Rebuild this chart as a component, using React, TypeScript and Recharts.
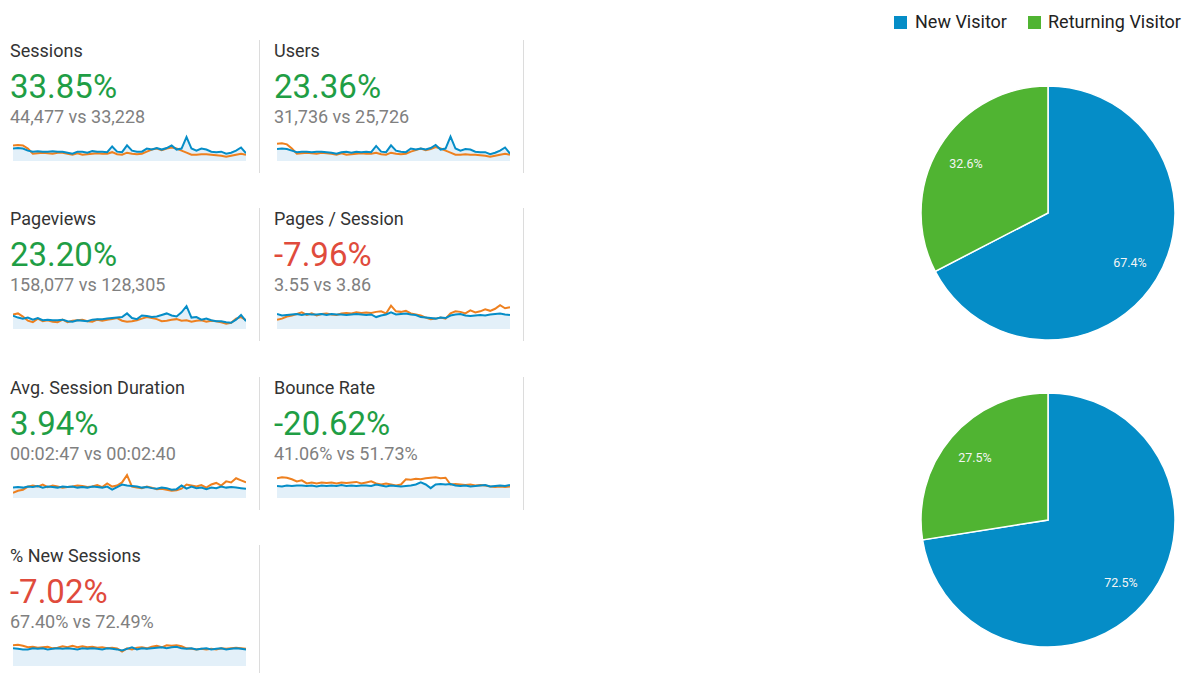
import { ComposedChart, Area, Line, XAxis, YAxis, PieChart, Pie, Cell } from 'recharts';

const BLUE = '#058dc7';
const ORANGE = '#ee801f';
const GREEN = '#50b432';
const AREA_FILL = '#e3f0f9';

const metricNames = ['Sessions', 'Users', 'Pageviews', 'Pages / Session', 'Avg. Session Duration', 'Bounce Rate', '% New Sessions'];
const metricChanges = ['33.85%', '23.36%', '23.20%', '-7.96%', '3.94%', '-20.62%', '-7.02%'];
const metricCompare = ['44,477 vs 33,228', '31,736 vs 25,726', '158,077 vs 128,305', '3.55 vs 3.86', '00:02:47 vs 00:02:40', '41.06% vs 51.73%', '67.40% vs 72.49%'];
const metricUp = [true, true, true, false, true, true, false];

// sparkline values, current range (blue) and previous range (orange)
const sessionsCur = [12, 12.5, 12, 10, 9, 9.5, 9, 9, 9.5, 9, 9, 8, 7, 9, 9, 8, 9.5, 9, 9, 8.5, 14, 9, 8.5, 15, 10, 9, 9, 12, 11, 12.5, 11, 12.5, 15, 11, 12, 23, 12, 10, 12, 11, 9, 8.5, 9, 7, 8, 10, 13, 7.5];
const sessionsPrev = [15, 15.5, 15, 12, 7, 7.5, 8, 7.5, 7, 8, 8, 7, 6, 7.5, 6, 6.5, 7, 7.5, 7, 7, 8.5, 6.5, 6, 8, 7, 6.5, 7, 9, 11, 12, 10.5, 12, 13, 12, 10, 8, 6, 6, 6.5, 6.5, 6, 5.5, 5, 4, 5, 6, 7, 6];
const usersCur = [11.5, 12, 11.5, 10, 8.5, 9, 9, 8.5, 9, 9, 8.5, 8, 7, 8.5, 9, 8, 9, 8.5, 9, 8.5, 14.5, 9, 8.5, 15, 10, 9, 8.5, 12, 11, 12, 11, 12.5, 15.5, 11, 12, 23.5, 12, 10, 11.5, 11, 9, 8.5, 8.5, 6.5, 8, 10, 13, 7];
const usersPrev = [16.5, 17, 16, 12, 7, 7.5, 8, 7.5, 7, 8, 7.5, 7, 6, 7.5, 6, 6.5, 7, 7.5, 7, 7, 8, 6.5, 6, 8, 7, 6.5, 7, 9, 10.5, 12, 10.5, 11.5, 13.5, 12, 10, 8, 6, 6, 6.5, 6, 6, 5.5, 5, 4, 5, 6, 7, 6];
const pageviewsCur = [12.7, 11, 10, 11, 9, 10.5, 8.5, 9, 8.5, 8.5, 9, 7.5, 7, 8.5, 8, 7.5, 9, 9.5, 9.5, 10, 10.5, 11, 11.5, 15, 10.5, 9.5, 13, 12.5, 11.5, 12, 13.5, 15, 13, 12, 16, 22, 11, 11.5, 9, 10, 8.5, 7.5, 7.5, 6.5, 6, 9, 13.5, 7.5];
const pageviewsPrev = [14, 15, 12, 8, 6.5, 10, 7.5, 8.5, 7, 6.5, 9, 6.5, 8, 8.5, 9, 7.5, 7, 9, 8, 9, 9.5, 10.5, 8, 7, 7.5, 8.5, 10, 11.5, 10.5, 9.5, 7.5, 8, 9, 9.5, 8, 8.5, 7, 8, 8.5, 7, 8, 7.5, 6.5, 5, 6, 10, 11.5, 8.5];
const pagesPerCur = [14.5, 13, 13.5, 14, 14.5, 13.5, 14.5, 14, 14, 14.5, 13.5, 14.5, 14, 14, 13.5, 14, 14.5, 14, 13.5, 14, 11.5, 13, 14, 16, 14, 14.5, 15, 14, 13.5, 11.5, 11, 10.5, 10, 11, 10.5, 13, 14, 14.5, 13, 12.5, 13, 13.5, 13, 14, 14.5, 15, 14, 13.5];
const pagesPerPrev = [9, 10, 12, 13, 14.5, 16, 13.5, 15, 13, 14.5, 15, 14, 13.5, 15, 15.5, 15, 16, 15.5, 16, 15.5, 16.5, 17, 15, 22.5, 17, 16.5, 17.5, 15, 14, 13, 11, 9.5, 10, 11, 10, 15, 17, 16.5, 15, 18, 16, 17, 19, 17.5, 19.5, 23, 20, 21];
const durationCur = [10, 10.5, 10, 11, 10.5, 11.5, 10, 11, 10.5, 10, 11, 10.5, 11, 10, 10.5, 10, 11, 10.5, 10, 11, 8, 10.5, 13, 12, 11.5, 11, 10, 10.5, 9.5, 9, 10, 9.5, 8, 8.5, 12, 9, 11, 9.5, 10, 8.5, 10, 9.5, 11, 10, 10.5, 10, 9.5, 9];
const durationPrev = [5, 7, 8, 11, 12, 11, 13, 10.5, 12, 11, 10, 10.5, 11, 12, 11.5, 10.5, 11, 12.5, 10.5, 14, 11, 12, 15, 22, 11, 10, 9.5, 11, 10, 8.5, 9, 8, 7, 7.5, 9, 13, 12, 11, 12.5, 10, 13, 14.5, 12, 16, 15, 19, 17, 15];
const bounceCur = [11.5, 11, 12, 11.5, 12, 12, 11.5, 12, 11, 12, 11.5, 12, 11.5, 12.5, 11.5, 12, 11.5, 12, 12, 11.5, 13, 12, 11, 12, 11.5, 11, 11.5, 12, 13, 15, 13, 9.5, 13, 13.5, 13, 13.5, 12, 11.5, 12, 11, 11.5, 12, 12.5, 11, 11.5, 12, 11.5, 12.5];
const bouncePrev = [19, 20, 19.5, 18, 16, 17, 14, 15, 14, 15, 14.5, 15, 14, 15, 14.5, 15, 15.5, 14, 15, 16, 14, 13, 14, 13, 12, 13, 18, 17.5, 18.5, 18, 19, 19.5, 20, 19, 19.5, 13, 13.5, 13, 12.5, 13, 12, 12.5, 12, 11, 10.5, 11, 10.5, 11];
const newSessCur = [17, 16.5, 16, 16, 17, 16.5, 17, 16, 16.5, 17, 16.5, 17, 16.5, 16, 17, 16.5, 17, 16.5, 16, 17, 16.5, 16, 15, 16.5, 18, 16, 17, 16.5, 17, 17.5, 18, 17, 18, 18.5, 17, 16.5, 17, 16, 16.5, 17, 16, 16.5, 17, 16, 16.5, 17, 16.5, 16];
const newSessPrev = [20, 20.5, 19.5, 18, 18.5, 17.5, 18, 18.5, 17, 17.5, 19, 18, 19.5, 18, 19, 18, 18.5, 17.5, 18, 17, 17.5, 17, 14, 17, 16, 17.5, 18, 17, 18.5, 19.5, 18, 20, 19.5, 20, 19, 17, 16.5, 16, 16.5, 16, 16.5, 16, 17, 16.5, 17, 17.5, 17, 16.5];

const sparkCur = [sessionsCur, usersCur, pageviewsCur, pagesPerCur, durationCur, bounceCur, newSessCur];
const sparkPrev = [sessionsPrev, usersPrev, pageviewsPrev, pagesPerPrev, durationPrev, bouncePrev, newSessPrev];

const visitorTypes = ['New Visitor', 'Returning Visitor'];
const visitorColors = [BLUE, GREEN];
const pieTopShares = [67.4, 32.6];
const pieBottomShares = [72.5, 27.5];

const FONT = 'Roboto, "Noto Sans", sans-serif';
const RADIAN = Math.PI / 180;

function Sparkline({ cur, prev }: { cur: number[]; prev: number[] }) {
  const data = cur.map((v, i) => ({ i, cur: v, prev: prev[i] }));
  return (
    <ComposedChart width={233} height={27} data={data} margin={{ top: 0, right: 0, bottom: 0, left: 0 }}>
      <XAxis dataKey="i" type="number" domain={[0, cur.length - 1]} hide />
      <YAxis domain={[0, 26]} hide />
      <Area dataKey="cur" stroke="none" fill={AREA_FILL} fillOpacity={1} isAnimationActive={false} />
      <Line dataKey="prev" stroke={ORANGE} strokeWidth={2} dot={false} isAnimationActive={false} />
      <Line dataKey="cur" stroke={BLUE} strokeWidth={2} dot={false} isAnimationActive={false} />
    </ComposedChart>
  );
}

function Card({ idx, left, top }: { idx: number; left: number; top: number }) {
  return (
    <div style={{ position: 'absolute', left, top, width: 249, height: 133, borderRight: '1px solid #dcdcdc' }}>
      <div style={{ position: 'absolute', left: 0, top: 0, fontSize: 18, lineHeight: '22px', color: '#333', whiteSpace: 'nowrap' }}>
        {metricNames[idx]}
      </div>
      <div style={{ position: 'absolute', left: 0, top: 28, fontSize: 33, lineHeight: '38px', color: metricUp[idx] ? '#1f9e45' : '#e04b3c', whiteSpace: 'nowrap' }}>
        {metricChanges[idx]}
      </div>
      <div style={{ position: 'absolute', left: 0, top: 66, fontSize: 18, lineHeight: '22px', color: '#808080', whiteSpace: 'nowrap' }}>
        {metricCompare[idx]}
      </div>
      <div style={{ position: 'absolute', left: 3, top: 94 }}>
        <Sparkline cur={sparkCur[idx]} prev={sparkPrev[idx]} />
      </div>
    </div>
  );
}

const renderPieLabel = (props: any) => {
  const { cx, cy, midAngle, value } = props;
  const r = 96;
  const x = cx + r * Math.cos(-midAngle * RADIAN);
  const y = cy + r * Math.sin(-midAngle * RADIAN);
  return (
    <text x={x} y={y} fill="#f4f4f4" fontSize={12.5} fontFamily={FONT} textAnchor="middle" dominantBaseline="central">
      {`${value.toFixed(1)}%`}
    </text>
  );
};

function VisitorPie({ shares, top }: { shares: number[]; top: number }) {
  const data = visitorTypes.map((name, i) => ({ name, value: shares[i] }));
  return (
    <div style={{ position: 'absolute', left: 918, top }}>
      <PieChart width={260} height={260} margin={{ top: 0, right: 0, bottom: 0, left: 0 }}>
        <Pie
          data={data}
          dataKey="value"
          cx={130}
          cy={130}
          outerRadius={127}
          startAngle={90}
          endAngle={-270}
          stroke="#fff"
          strokeWidth={1.5}
          label={renderPieLabel}
          labelLine={false}
          isAnimationActive={false}
        >
          {data.map((d, i) => (
            <Cell key={d.name} fill={visitorColors[i]} />
          ))}
        </Pie>
      </PieChart>
    </div>
  );
}

const cardLefts = [10, 274];
const cardTops = [40, 208, 377, 545];
const legendSquareX = [894, 1028];
const legendTextX = [915, 1048];

export default function App() {
  return (
    <div style={{ position: 'absolute', left: 0, top: 0, width: 1189, height: 673, background: '#fff', fontFamily: FONT, overflow: 'hidden' }}>
      {metricNames.map((name, i) => (
        <Card key={name} idx={i} left={cardLefts[i % 2]} top={cardTops[Math.floor(i / 2)]} />
      ))}

      {/* legend */}
      {visitorTypes.map((name, i) => (
        <div key={name}>
          <span style={{ position: 'absolute', left: legendSquareX[i], top: 16, width: 13, height: 13, background: visitorColors[i] }} />
          <span style={{ position: 'absolute', left: legendTextX[i], top: 11, fontSize: 18, lineHeight: '22px', color: '#222', whiteSpace: 'nowrap' }}>
            {name}
          </span>
        </div>
      ))}

      <VisitorPie shares={pieTopShares} top={83} />
      <VisitorPie shares={pieBottomShares} top={390} />
    </div>
  );
}
